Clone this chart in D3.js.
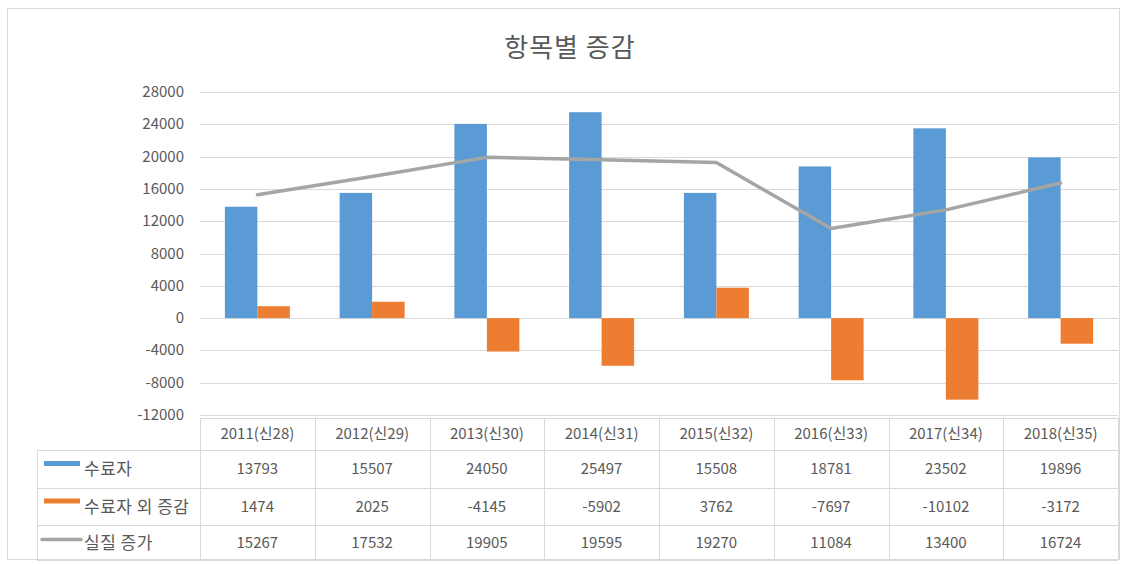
<!DOCTYPE html>
<html>
<head>
<meta charset="utf-8">
<script src="https://cdn.jsdelivr.net/npm/d3@7"></script>
<style>
  body { margin: 0; background: #fff; }
  text { font-family: "Noto Sans CJK KR", "Noto Sans", sans-serif; fill: #595959; }
</style>
</head>
<body>
<svg id="chart" width="1128" height="564"></svg>
<script>
var categories = ["2011(신28)", "2012(신29)", "2013(신30)", "2014(신31)", "2015(신32)", "2016(신33)", "2017(신34)", "2018(신35)"];
var suryoja = [13793, 15507, 24050, 25497, 15508, 18781, 23502, 19896];
var suryojaOe = [1474, 2025, -4145, -5902, 3762, -7697, -10102, -3172];
var siljil = [15267, 17532, 19905, 19595, 19270, 11084, 13400, 16724];
var yTicks = [28000, 24000, 20000, 16000, 12000, 8000, 4000, 0, -4000, -8000, -12000];

var seriesNames = ["수료자", "수료자 외 증감", "실질 증가"];
var colors = ["#5b9bd5", "#ed7d31", "#a5a5a5"];

var svg = d3.select("#chart");

// outer chart border
svg.append("rect")
  .attr("x", 7.5).attr("y", 8.5).attr("width", 1112).attr("height", 551)
  .attr("fill", "none").attr("stroke", "#d9d9d9");

svg.append("text")
  .attr("x", 570).attr("y", 57)
  .attr("text-anchor", "middle")
  .style("font-size", "26px")
  .style("letter-spacing", "1px")
  .text("항목별 증감");

var left = 200, right = 1118;
var x = d3.scaleBand().domain(categories).range([left, right]);
var y = d3.scaleLinear().domain([-12000, 28000]).range([415, 92]);

// gridlines
svg.append("g").selectAll("line").data(yTicks).join("line")
  .attr("x1", left).attr("x2", right)
  .attr("y1", function(d) { return Math.round(y(d)) + 0.5; })
  .attr("y2", function(d) { return Math.round(y(d)) + 0.5; })
  .attr("stroke", "#d9d9d9");

// y labels
svg.append("g").selectAll("text").data(yTicks).join("text")
  .attr("x", 184).attr("y", function(d) { return y(d) + 5; })
  .attr("text-anchor", "end")
  .style("font-size", "15px")
  .text(function(d) { return d; });

var barW = 32.5;
svg.append("g").selectAll("rect").data(suryoja).join("rect")
  .attr("x", function(d, i) { return x(categories[i]) + x.bandwidth() / 2 - barW; })
  .attr("width", barW)
  .attr("y", function(d) { return y(Math.max(0, d)); })
  .attr("height", function(d) { return Math.abs(y(d) - y(0)); })
  .attr("fill", colors[0]);

svg.append("g").selectAll("rect").data(suryojaOe).join("rect")
  .attr("x", function(d, i) { return x(categories[i]) + x.bandwidth() / 2; })
  .attr("width", barW)
  .attr("y", function(d) { return y(Math.max(0, d)); })
  .attr("height", function(d) { return Math.abs(y(d) - y(0)); })
  .attr("fill", colors[1]);

var line = d3.line()
  .x(function(d, i) { return x(categories[i]) + x.bandwidth() / 2; })
  .y(function(d) { return y(d); });

svg.append("path").datum(siljil)
  .attr("d", line)
  .attr("fill", "none")
  .attr("stroke", colors[2])
  .attr("stroke-width", 3.5)
  .attr("stroke-linejoin", "round")
  .attr("stroke-linecap", "round");

// data table
var rowsY = [418, 450, 488, 525, 560];
var tableLeft = 37;
var grid = svg.append("g").attr("stroke", "#d9d9d9").attr("fill", "none");
grid.append("line").attr("x1", left).attr("x2", right).attr("y1", rowsY[0] + 0.5).attr("y2", rowsY[0] + 0.5);
for (var r = 1; r < rowsY.length; r++) {
  grid.append("line").attr("x1", tableLeft).attr("x2", right)
    .attr("y1", rowsY[r] + 0.5).attr("y2", rowsY[r] + 0.5);
}
grid.append("line").attr("x1", tableLeft + 0.5).attr("x2", tableLeft + 0.5).attr("y1", rowsY[1]).attr("y2", rowsY[4]);
categories.concat(["end"]).forEach(function(c, i) {
  var xx = i < categories.length ? x(c) : right;
  grid.append("line").attr("x1", Math.round(xx) + 0.5).attr("x2", Math.round(xx) + 0.5)
    .attr("y1", rowsY[0]).attr("y2", rowsY[4]);
});

svg.append("g").selectAll("text").data(categories).join("text")
  .attr("x", function(d) { return x(d) + x.bandwidth() / 2; })
  .attr("y", (rowsY[0] + rowsY[1]) / 2 + 5)
  .attr("text-anchor", "middle")
  .style("font-size", "15px")
  .text(function(d) { return d; });

[suryoja, suryojaOe, siljil].forEach(function(vals, s) {
  var cy = (rowsY[s + 1] + rowsY[s + 2]) / 2;
  svg.append("g").selectAll("text").data(vals).join("text")
    .attr("x", function(d, i) { return x(categories[i]) + x.bandwidth() / 2; })
    .attr("y", cy + 5)
    .attr("text-anchor", "middle")
    .style("font-size", "15px")
    .text(function(d) { return d; });

  if (s < 2) {
    svg.append("rect").attr("x", 44).attr("y", cy - 8).attr("width", 36).attr("height", 5).attr("fill", colors[s]);
  } else {
    svg.append("line").attr("x1", 42).attr("x2", 81).attr("y1", cy - 3).attr("y2", cy - 3)
      .attr("stroke", colors[s]).attr("stroke-width", 3.5).attr("stroke-linecap", "round");
  }
  svg.append("text").attr("x", 84).attr("y", cy + 6)
    .style("font-size", "17px")
    .style("letter-spacing", "0.5px")
    .text(seriesNames[s]);
});
</script>
</body>
</html>
